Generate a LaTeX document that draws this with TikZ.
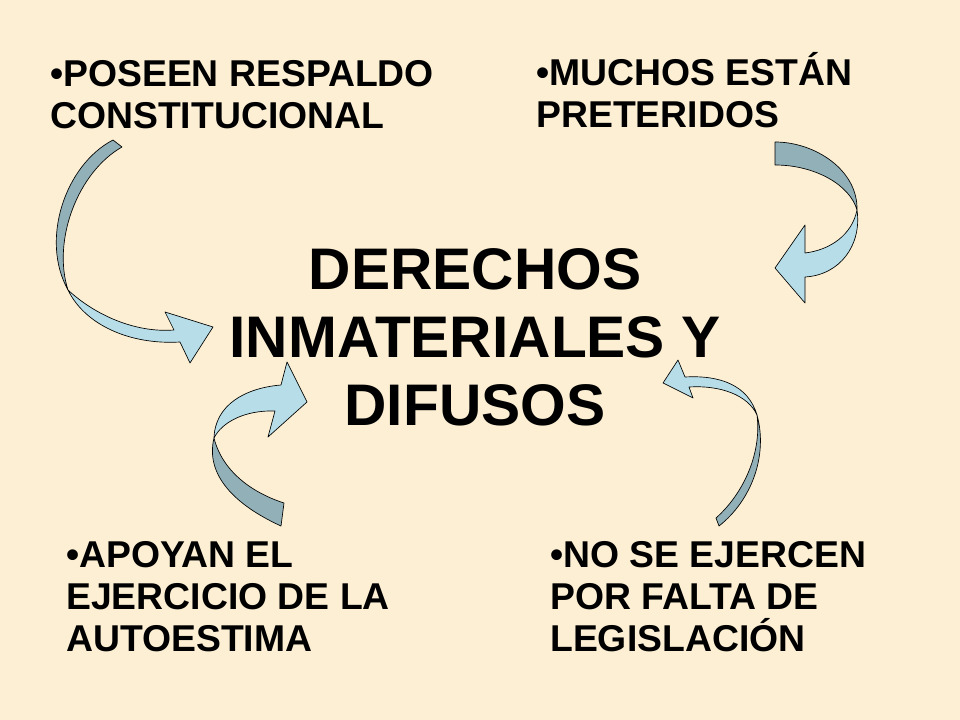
\documentclass[tikz,border=0pt]{standalone}
\usepackage{fontspec}
\setmainfont{Liberation Sans}
\definecolor{paper}{RGB}{252,239,212}
\definecolor{ribbonlight}{RGB}{183,222,232}
\definecolor{ribbondark}{RGB}{146,176,183}
\begin{document}
\begin{tikzpicture}[x=0.75pt,y=-0.75pt,
    item/.style={anchor=north west,inner sep=0pt,align=left,
      font=\fontsize{28}{31.5}\selectfont\bfseries},
    back/.style={fill=ribbondark,draw=black,line width=0.5pt,line join=round},
    face/.style={fill=ribbonlight,draw=black,line width=0.5pt,line join=round}]
      \fill[paper] (0,0) rectangle (960,720);
      \useasboundingbox (0,0) rectangle (960,720);
      \draw
        (475,337) node[align=center,inner sep=0pt,
          font=\fontsize{44}{51}\selectfont\bfseries] (centro)
          {DERECHOS\\INMATERIALES Y\\DIFUSOS}
        (50,60) node[item] (poseen) {•POSEEN RESPALDO\\CONSTITUCIONAL}
        (536,52) node[item] (muchos) {•MUCHOS ESTÁN\\PRETERIDOS}
        (66,541) node[item] (apoyan) {•APOYAN EL\\EJERCICIO DE LA\\AUTOESTIMA}
        (550,541) node[item] (ejercen) {•NO SE EJERCEN\\POR FALTA DE\\LEGISLACIÓN};
      \begin{scope}
        \draw[back] (122,147) -- (113,140)
          .. controls (65,165) and (40,240) .. (68,290)
          .. controls (52,240) and (78,172) .. (122,147) -- cycle;
        \draw[face] (68,290) .. controls (85,325) and (130,345) .. (180,342)
          -- (190,363) -- (213,327) -- (165,312) -- (174,330)
          .. controls (135,333) and (95,315) .. (68,290) -- cycle;
        \draw[back] (775,165) -- (775,142)
          .. controls (815,142) and (858,170) .. (857,210)
          .. controls (850,185) and (815,165) .. (775,165) -- cycle;
        \draw[face] (857,210) .. controls (862,245) and (840,275) .. (805,277)
          -- (805,303) -- (775,268) -- (805,225) -- (805,253)
          .. controls (830,250) and (852,235) .. (857,210) -- cycle;
        \draw[back] (284,503) -- (281,526)
          .. controls (235,505) and (205,475) .. (214,438)
          .. controls (222,470) and (250,492) .. (284,503) -- cycle;
        \draw[face] (214,438) .. controls (215,405) and (245,388) .. (281,385)
          -- (287,362) -- (307,402) -- (268,437) -- (275,411)
          .. controls (245,410) and (222,422) .. (214,438) -- cycle;
        \draw[back] (716,518) -- (719,526)
          .. controls (752,500) and (768,455) .. (757,415)
          .. controls (762,455) and (742,495) .. (716,518) -- cycle;
        \draw[face] (757,415) .. controls (748,385) and (720,375) .. (685,377)
          -- (678,360) -- (663,383) -- (693,398) -- (689,387)
          .. controls (720,385) and (748,395) .. (757,415) -- cycle;
      \end{scope}
    \end{tikzpicture}
\end{document}
